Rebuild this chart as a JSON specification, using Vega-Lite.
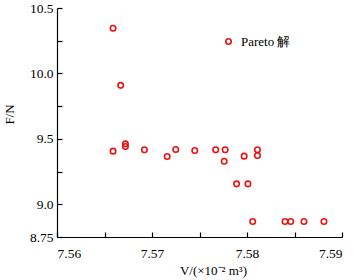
{
  "$schema": "https://vega.github.io/schema/vega-lite/v6.json",
  "width": 285,
  "height": 229,
  "autosize": {"type": "none"},
  "padding": {"left": 57, "top": 8, "right": 16, "bottom": 43},
  "background": "white",
  "config": {
    "view": {"stroke": null},
    "font": "Liberation Serif",
    "axis": {"grid": false, "domainColor": "black", "tickColor": "black", "labelColor": "black", "titleColor": "black", "labelFont": "Liberation Serif", "titleFont": "Liberation Serif", "labelFontSize": 13.5, "titleFontSize": 13, "titleFontWeight": "normal", "tickSize": -5, "domainWidth": 1.2, "tickWidth": 1.2}
  },
  "data": {"values": [
    {"v": 7.5659, "f": 10.345, "s": "Pareto 解"},
    {"v": 7.5667, "f": 9.909, "s": "Pareto 解"},
    {"v": 7.5659, "f": 9.406, "s": "Pareto 解"},
    {"v": 7.5672, "f": 9.462, "s": "Pareto 解"},
    {"v": 7.5672, "f": 9.442, "s": "Pareto 解"},
    {"v": 7.5692, "f": 9.417, "s": "Pareto 解"},
    {"v": 7.5716, "f": 9.365, "s": "Pareto 解"},
    {"v": 7.5725, "f": 9.419, "s": "Pareto 解"},
    {"v": 7.5745, "f": 9.411, "s": "Pareto 解"},
    {"v": 7.5767, "f": 9.417, "s": "Pareto 解"},
    {"v": 7.5777, "f": 9.417, "s": "Pareto 解"},
    {"v": 7.5776, "f": 9.329, "s": "Pareto 解"},
    {"v": 7.5797, "f": 9.368, "s": "Pareto 解"},
    {"v": 7.5811, "f": 9.417, "s": "Pareto 解"},
    {"v": 7.5811, "f": 9.373, "s": "Pareto 解"},
    {"v": 7.5789, "f": 9.156, "s": "Pareto 解"},
    {"v": 7.5801, "f": 9.156, "s": "Pareto 解"},
    {"v": 7.5806, "f": 8.868, "s": "Pareto 解"},
    {"v": 7.5840, "f": 8.868, "s": "Pareto 解"},
    {"v": 7.5846, "f": 8.868, "s": "Pareto 解"},
    {"v": 7.5860, "f": 8.868, "s": "Pareto 解"},
    {"v": 7.5881, "f": 8.868, "s": "Pareto 解"}
  ]},
  "mark": {"type": "point", "shape": "circle", "filled": false, "size": 30, "strokeWidth": 1.6, "opacity": 1},
  "encoding": {
    "x": {"field": "v", "type": "quantitative", "scale": {"domain": [7.56, 7.59], "zero": false, "nice": false},
      "axis": {"title": "V/(×10⁻² m³)", "values": [7.56, 7.565, 7.57, 7.575, 7.58, 7.585, 7.59],
        "labelExpr": "(round(datum.value*1000) % 10 == 5) ? '' : format(datum.value, '.2f')", "labelPadding": 14, "titlePadding": 5, "titleX": 156}},
    "y": {"field": "f", "type": "quantitative", "scale": {"domain": [8.75, 10.5], "zero": false, "nice": false},
      "axis": {"title": "F/N", "values": [8.75, 9.0, 9.25, 9.5, 9.75, 10.0, 10.25, 10.5],
        "labelExpr": "datum.value == 8.75 ? '8.75' : ((round(datum.value*100) % 50 == 25) ? '' : format(datum.value, '.1f'))", "labelPadding": 9, "titleX": -48, "titleY": 106, "titleBaseline": "middle"}},
    "color": {"field": "s", "type": "nominal", "scale": {"range": ["#ee1111"]},
      "legend": {"title": null, "orient": "none", "legendX": 165, "legendY": 27, "labelFontSize": 13, "labelFont": "Liberation Serif", "labelColor": "black", "symbolSize": 30, "symbolStrokeWidth": 1.6, "symbolType": "circle", "labelOffset": 6}}
  }
}
